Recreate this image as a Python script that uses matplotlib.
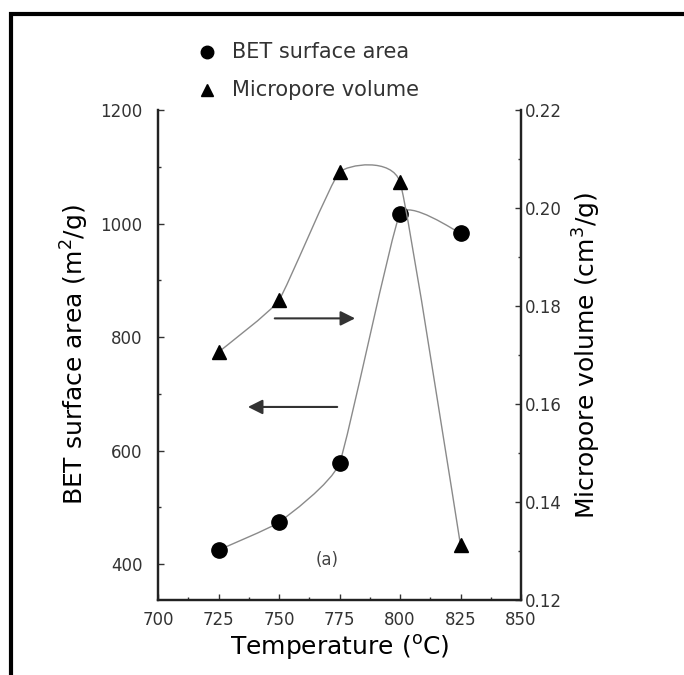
import numpy as np
import matplotlib
matplotlib.use("Agg")
from matplotlib import pyplot as plt
from matplotlib.path import Path
from matplotlib.patches import PathPatch, Rectangle
from matplotlib.ticker import MultipleLocator

temperature = [725, 750, 775, 800, 825]
bet_area = [425, 474, 578, 1017, 983]
micropore_vol = [0.1706, 0.1812, 0.2073, 0.2053, 0.1312]

x_ticks = [700, 725, 750, 775, 800, 825, 850]
bet_ticks = [400, 600, 800, 1000, 1200]
vol_ticks = [0.12, 0.14, 0.16, 0.18, 0.20, 0.22]

LINE_COLOR = "#8a8a8a"
TICK_COLOR = "#333333"


def smooth_path(xs, ys, tension=0.4):
    # loose Catmull-Rom through the points, drawn as cubic Bezier segments
    pts = np.column_stack([xs, ys]).astype(float)
    ext = np.vstack([pts[0], pts, pts[-1]])
    k = tension / 6
    verts = [pts[0]]
    codes = [Path.MOVETO]
    for i in range(len(pts) - 1):
        p0, p1, p2, p3 = ext[i], ext[i + 1], ext[i + 2], ext[i + 3]
        verts += [p1 + (p2 - p0) * k, p2 - (p3 - p1) * k, p2]
        codes += [Path.CURVE4] * 3
    return Path(verts, codes)


fig = plt.figure(figsize=(6.84, 6.75), dpi=100)
ax = fig.add_axes([158 / 684, 1 - 600 / 675, 363 / 684, 490 / 675])
ax2 = ax.twinx()

ax.set_xlim(700, 850)
ax.set_ylim(337, 1200)
ax2.set_ylim(0.12, 0.22)

ax.add_patch(PathPatch(smooth_path(temperature, bet_area), fill=False,
                       edgecolor=LINE_COLOR, lw=1.0))
ax2.add_patch(PathPatch(smooth_path(temperature, micropore_vol), fill=False,
                        edgecolor=LINE_COLOR, lw=1.0))
ax.plot(temperature, bet_area, "o", color="black", ms=11, zorder=5)
ax2.plot(temperature, micropore_vol, "^", color="black", ms=10, zorder=5)

ax.set_xticks(x_ticks)
ax.set_yticks(bet_ticks)
ax2.set_yticks(vol_ticks)
ax.xaxis.set_minor_locator(MultipleLocator(12.5))
ax.yaxis.set_minor_locator(MultipleLocator(100))
ax2.yaxis.set_minor_locator(MultipleLocator(0.01))
ax2.set_yticklabels([f"{v:.2f}" for v in vol_ticks])

for a in (ax, ax2):
    a.spines["top"].set_visible(False)
    for s in a.spines.values():
        s.set_linewidth(1.6)
        s.set_color("#222222")
    a.tick_params(which="both", direction="in", colors=TICK_COLOR,
                  labelsize=12, width=1)
    a.tick_params(which="major", length=4)
    a.tick_params(which="minor", length=2)
ax.tick_params(axis="y", pad=11)
ax2.tick_params(axis="y", pad=3)
ax.tick_params(axis="x", pad=8)

ax.set_xlabel("Temperature ($\\mathregular{^o}$C)", fontsize=18, labelpad=3)
ax.set_ylabel("BET surface area (m$\\mathregular{^2}$/g)", fontsize=18, labelpad=7)
ax2.set_ylabel("Micropore volume (cm$\\mathregular{^3}$/g)", fontsize=18, labelpad=6)

arrow = dict(arrowstyle="-|>", mutation_scale=22, lw=1.5, color="#333333")
ax.annotate("", xy=(782.6, 833), xytext=(747.1, 833), arrowprops=arrow)
ax.annotate("", xy=(736.0, 677), xytext=(775.2, 677), arrowprops=arrow)
ax.text(769.8, 407, "(a)", fontsize=12, color="#444444", ha="center", va="center")

# legend drawn above the axes
fig.lines.append(plt.Line2D([207 / 684], [1 - 52 / 675], marker="o", color="black",
                            ms=9, transform=fig.transFigure))
fig.lines.append(plt.Line2D([207 / 684], [1 - 90 / 675], marker="^", color="black",
                            ms=9, transform=fig.transFigure))
fig.text(232 / 684, 1 - 52 / 675, "BET surface area", fontsize=15,
         color="#333333", va="center")
fig.text(232 / 684, 1 - 90 / 675, "Micropore volume", fontsize=15,
         color="#333333", va="center")

# outer frame, cut off at the right and bottom
fig.patches.append(Rectangle((11 / 684, -0.1), 1.0, 1.1 - 14 / 675, fill=False,
                             lw=3, edgecolor="black", transform=fig.transFigure))

fig.savefig("out.png", dpi=100)
